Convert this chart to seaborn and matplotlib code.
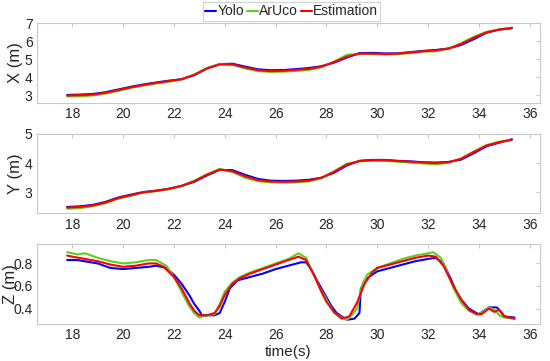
import matplotlib
matplotlib.use("Agg")
import matplotlib.pyplot as plt
import seaborn as sns

# time base for the X / Y traces (s)
t_xy = [17.8, 18.3, 18.8, 19.3, 19.8, 20.3, 20.8, 21.3, 21.8, 22.3, 22.8, 23.3,
        23.8, 24.3, 24.8, 25.3, 25.8, 26.3, 26.8, 27.3, 27.8, 28.3, 28.8, 29.3,
        29.8, 30.3, 30.8, 31.3, 31.8, 32.3, 32.8, 33.3, 33.8, 34.3, 34.8, 35.3]

x_est = [3.00, 3.02, 3.05, 3.15, 3.30, 3.45, 3.58, 3.70, 3.80, 3.90, 4.15, 4.50,
         4.72, 4.72, 4.55, 4.40, 4.35, 4.37, 4.42, 4.47, 4.60, 4.85, 5.15, 5.32,
         5.32, 5.30, 5.32, 5.38, 5.45, 5.50, 5.60, 5.85, 6.20, 6.50, 6.65, 6.75]
x_yolo = [3.03, 3.05, 3.08, 3.18, 3.33, 3.48, 3.61, 3.72, 3.82, 3.90, 4.12, 4.50,
          4.74, 4.76, 4.60, 4.45, 4.40, 4.41, 4.46, 4.52, 4.62, 4.82, 5.10, 5.35,
          5.36, 5.33, 5.33, 5.40, 5.47, 5.52, 5.60, 5.80, 6.12, 6.48, 6.65, 6.72]
x_aruco = [2.95, 2.95, 3.00, 3.10, 3.25, 3.42, 3.55, 3.66, 3.76, 3.88, 4.15, 4.52,
           4.74, 4.70, 4.50, 4.35, 4.31, 4.32, 4.36, 4.41, 4.56, 4.88, 5.25, 5.30,
           5.30, 5.27, 5.29, 5.35, 5.42, 5.45, 5.58, 5.90, 6.25, 6.52, 6.66, 6.75]

y_est = [2.48, 2.50, 2.55, 2.65, 2.80, 2.90, 3.00, 3.05, 3.12, 3.22, 3.38, 3.60,
         3.78, 3.72, 3.55, 3.42, 3.37, 3.36, 3.37, 3.40, 3.50, 3.70, 3.95, 4.07,
         4.10, 4.10, 4.07, 4.05, 4.02, 4.00, 4.03, 4.15, 4.38, 4.60, 4.72, 4.80]
y_yolo = [2.50, 2.52, 2.57, 2.67, 2.82, 2.92, 3.01, 3.06, 3.12, 3.22, 3.36, 3.58,
          3.77, 3.76, 3.60, 3.46, 3.40, 3.39, 3.40, 3.43, 3.50, 3.67, 3.92, 4.08,
          4.11, 4.11, 4.08, 4.06, 4.03, 4.02, 4.04, 4.12, 4.34, 4.58, 4.70, 4.82]
y_aruco = [2.44, 2.46, 2.52, 2.62, 2.78, 2.88, 2.99, 3.04, 3.10, 3.22, 3.40, 3.62,
           3.80, 3.70, 3.50, 3.38, 3.34, 3.33, 3.34, 3.37, 3.48, 3.72, 3.98, 4.06,
           4.08, 4.08, 4.05, 4.02, 3.99, 3.96, 4.01, 4.16, 4.40, 4.62, 4.73, 4.80]

# Z traces, each with its own time stamps
t_z_est = [17.8, 18.0, 18.5, 19.0, 19.5, 20.0, 20.5, 21.0, 21.3, 21.6, 22.0, 22.3,
           22.6, 22.8, 23.0, 23.3, 23.6, 23.8, 24.0, 24.3, 24.6, 25.0, 25.5, 26.0,
           26.5, 26.9, 27.2, 27.5, 27.8, 28.0, 28.3, 28.6, 28.9, 29.2, 29.5, 29.8,
           30.0, 30.5, 31.0, 31.5, 32.0, 32.3, 32.6, 33.0, 33.3, 33.6, 33.9, 34.1,
           34.4, 34.6, 34.8, 35.0, 35.4]
z_est = [0.87, 0.86, 0.84, 0.82, 0.79, 0.77, 0.78, 0.80, 0.80, 0.77, 0.68, 0.58,
         0.45, 0.38, 0.34, 0.34, 0.36, 0.42, 0.52, 0.62, 0.67, 0.71, 0.75, 0.79,
         0.83, 0.86, 0.83, 0.70, 0.55, 0.46, 0.37, 0.31, 0.33, 0.45, 0.62, 0.72,
         0.76, 0.79, 0.82, 0.85, 0.87, 0.86, 0.78, 0.60, 0.48, 0.39, 0.35, 0.35,
         0.40, 0.37, 0.39, 0.33, 0.31]

t_z_yolo = [17.8, 18.2, 19.0, 19.5, 20.0, 20.5, 21.0, 21.3, 21.7, 22.0, 22.3, 22.6,
            22.8, 23.0, 23.1, 23.6, 23.8, 24.0, 24.2, 24.5, 25.0, 25.5, 26.0, 26.5,
            27.0, 27.2, 27.4, 27.7, 28.0, 28.2, 28.4, 28.6, 28.8, 29.1, 29.3, 29.35,
            29.5, 29.8, 30.0, 30.5, 31.0, 31.5, 32.0, 32.3, 32.6, 32.9, 33.1, 33.3,
            33.6, 33.9, 34.0, 34.2, 34.4, 34.7, 34.9, 35.0, 35.4]
z_yolo = [0.83, 0.83, 0.80, 0.76, 0.75, 0.76, 0.77, 0.78, 0.76, 0.70, 0.62, 0.52,
          0.44, 0.38, 0.34, 0.34, 0.36, 0.46, 0.58, 0.65, 0.68, 0.71, 0.75, 0.78,
          0.81, 0.81, 0.75, 0.62, 0.50, 0.42, 0.36, 0.33, 0.30, 0.31, 0.36, 0.57,
          0.65, 0.70, 0.73, 0.76, 0.79, 0.82, 0.84, 0.85, 0.80, 0.66, 0.55, 0.48,
          0.40, 0.36, 0.35, 0.38, 0.41, 0.41, 0.36, 0.33, 0.32]

t_z_aruco = [17.8, 18.2, 18.5, 19.0, 19.5, 20.0, 20.5, 21.0, 21.3, 21.7, 22.0, 22.3,
             22.6, 22.8, 23.0, 23.3, 23.6, 23.8, 24.0, 24.3, 24.6, 25.0, 25.5, 26.0,
             26.5, 26.9, 27.2, 27.5, 27.6, 27.7, 28.0, 28.3, 28.6, 28.8, 29.0, 29.2,
             29.4, 29.6, 30.0, 30.5, 31.0, 31.5, 32.0, 32.2, 32.5, 32.7, 33.0, 33.3,
             33.6, 33.9, 34.1, 34.4, 34.6, 34.8, 35.0, 35.4]
z_aruco = [0.90, 0.88, 0.89, 0.85, 0.82, 0.80, 0.81, 0.83, 0.83, 0.78, 0.68, 0.55,
           0.42, 0.36, 0.32, 0.34, 0.35, 0.44, 0.55, 0.63, 0.68, 0.72, 0.76, 0.80,
           0.84, 0.89, 0.85, 0.70, 0.66, 0.60, 0.48, 0.36, 0.32, 0.30, 0.34, 0.40,
           0.60, 0.70, 0.76, 0.80, 0.84, 0.87, 0.89, 0.90, 0.85, 0.75, 0.58, 0.45,
           0.38, 0.35, 0.36, 0.41, 0.39, 0.34, 0.32, 0.31]

series_names = ["Yolo", "ArUco", "Estimation"]
colors = ["#0000ff", "#5fcf1f", "#ff0000"]

sns.set_theme(style="white")
plt.rcParams["font.family"] = ["Liberation Sans", "DejaVu Sans"]

fig = plt.figure(figsize=(5.5, 3.61), dpi=100)
left, width = 0.0667, 0.915
ax_x = fig.add_axes([left, 0.7155, width, 0.22])
ax_y = fig.add_axes([left, 0.409, width, 0.22])
ax_z = fig.add_axes([left, 0.1017, width, 0.2216])

panels = [
    (ax_x, [(t_xy, x_yolo), (t_xy, x_aruco), (t_xy, x_est)], "X (m)", (2.6, 7), [3, 4, 5, 6, 7], -0.027),
    (ax_y, [(t_xy, y_yolo), (t_xy, y_aruco), (t_xy, y_est)], "Y (m)", (2.28, 5), [3, 4, 5], -0.027),
    (ax_z, [(t_z_yolo, z_yolo), (t_z_aruco, z_aruco), (t_z_est, z_est)], "Z (m)", (0.26, 0.97), [0.4, 0.6, 0.8], -0.037),
]

for ax, traces, label, ylim, yticks, lab_x in panels:
    for (tt, vv), name, c in zip(traces, series_names, colors):
        sns.lineplot(x=tt, y=vv, ax=ax, color=c, linewidth=1.5, label=name,
                     sort=False, estimator=None, legend=False)
    ax.set_xlim(16.6, 36.4)
    ax.set_ylim(*ylim)
    ax.set_xticks(range(18, 37, 2))
    ax.set_yticks(yticks)
    if label == "Z (m)":
        ax.set_yticklabels(["0.4", "0.6", "0.8"])
    ax.set_ylabel(label, fontsize=12, color="#262626")
    ax.yaxis.set_label_coords(lab_x, 0.5)
    ax.tick_params(direction="in", length=3, width=0.6, color="#bcbcbc",
                   labelsize=10, labelcolor="#262626", top=True, right=True, pad=3)
    for sp in ax.spines.values():
        sp.set_color("#c8c8c8")
        sp.set_linewidth(0.8)

ax_z.set_xlabel("time(s)", fontsize=11, color="#262626", labelpad=2)

handles, labels = ax_x.get_lines(), series_names
leg = fig.legend(handles[:3], labels, loc="upper center", bbox_to_anchor=(0.53, 1.005),
                 ncol=3, fontsize=10, handlelength=0.8, handletextpad=0.1,
                 columnspacing=0.2, borderpad=0.15, borderaxespad=0.3,
                 frameon=True, fancybox=False)
leg.get_frame().set_edgecolor("#c8c8c8")
leg.get_frame().set_linewidth(0.8)

fig.savefig("out.png", dpi=100)
